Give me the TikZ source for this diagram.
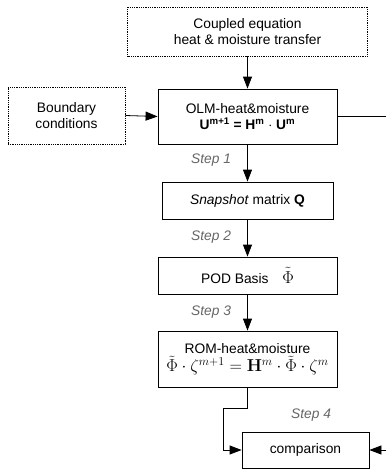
\documentclass[tikz,border=0pt]{standalone}
\usepackage[no-math]{fontspec}
\setmainfont{Liberation Sans}
\usetikzlibrary{arrows.meta}
\begin{document}
\begin{tikzpicture}[x=1pt,y=-1pt,
  every node/.style={font=\fontsize{13.8}{16.5}\selectfont, inner sep=0pt},
  box/.style={draw, line width=0.8pt, align=center},
  dbox/.style={draw, densely dotted, line width=0.8pt, align=center},
  steplbl/.style={text=black!60, font=\fontsize{13.8}{16.5}\selectfont\itshape},
  conn/.style={line width=0.8pt},
  arr/.style={line width=0.8pt, -{Triangle[length=12pt,width=9pt]}}]
\useasboundingbox (0,0) rectangle (386,471);
\node[dbox, minimum width=240pt, minimum height=49pt] (top) at (247.5,31.5) {Coupled equation\\heat \& moisture transfer};
\node[dbox, minimum width=117pt, minimum height=57pt] (bc) at (66.5,115.5) {Boundary\\conditions};
\node[box, minimum width=179pt, minimum height=55pt] (olm) at (247.5,116.5) {OLM-heat\&moisture\\[0pt]\textbf{U\textsuperscript{m+1} = H\textsuperscript{m} $\cdot$ U\textsuperscript{m}}};
\node[box, minimum width=171pt, minimum height=37pt] (snap) at (247.5,200.5) {\textit{Snapshot} matrix \textbf{Q}};
\node[box, minimum width=179pt, minimum height=37pt] (pod) at (247.5,275.5) {POD Basis\quad{\fontsize{17}{19}\selectfont $\tilde{\Phi}$}};
\node[box, minimum width=179pt, minimum height=56pt] (rom) at (247.5,359) {ROM-heat\&moisture\\[2pt]{\fontsize{17}{19}\selectfont $\tilde{\Phi}\cdot\zeta^{m+1}=\mathbf{H}^{m}\cdot\tilde{\Phi}\cdot\zeta^{m}$}};
\node[box, minimum width=127pt, minimum height=36pt] (comp) at (305.5,450) {comparison};
\node[steplbl] (s1) at (211,160) {Step 1};
\node[steplbl] (s2) at (211,237) {Step 2};
\node[steplbl] (s3) at (211,312) {Step 3};
\node[steplbl] (s4) at (311,415) {Step 4};
\coordinate (rout) at (386,116.5);
\coordinate (rin) at (386,450);
\coordinate (k1) at (223,408);
\draw[arr] (top.south) -- (olm.north);
\draw[arr] (bc.east) -- (olm.west);
\draw[conn] (olm.east) -- (rout);
\draw[arr] (olm.south) -- (snap.north);
\draw[arr] (snap.south) -- (pod.north);
\draw[arr] (pod.south) -- (rom.north);
\draw[arr] (rom.south) |- (k1) |- (comp.west);
\draw[arr] (rin) -- (comp.east);
\end{tikzpicture}
\end{document}
